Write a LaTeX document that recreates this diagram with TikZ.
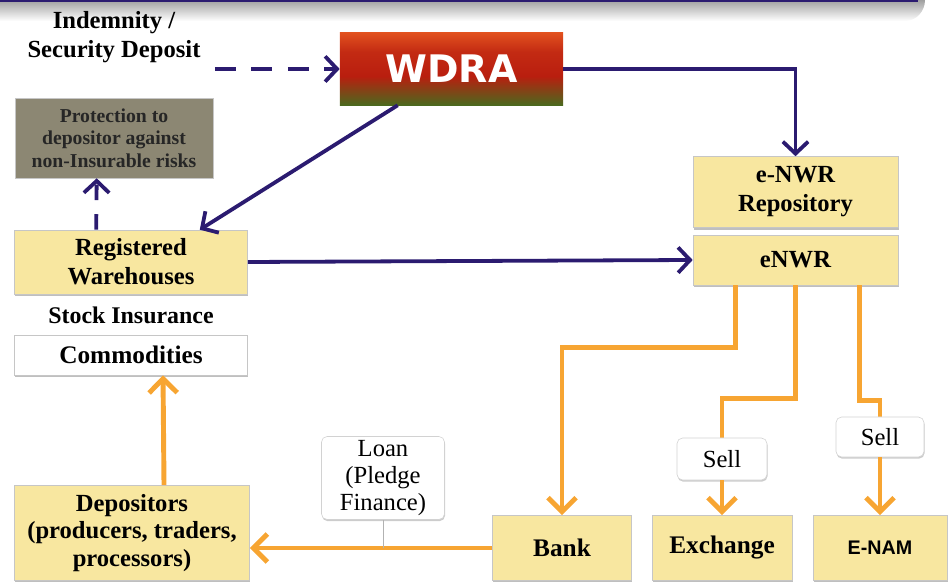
\documentclass[tikz,border=0pt]{standalone}
\usepackage{fontspec}
\setmainfont{Liberation Serif}
\newfontfamily\wdrafont{DejaVu Sans}
\newfontfamily\enamfont{Liberation Sans}
\usetikzlibrary{arrows.meta,shadows}
\definecolor{boxyellow}{RGB}{248,231,160}
\definecolor{linenavy}{RGB}{43,27,112}
\definecolor{lineorange}{RGB}{247,165,50}
\definecolor{protgray}{RGB}{140,135,115}
\definecolor{wdratop}{RGB}{225,80,30}
\definecolor{wdramid}{RGB}{185,30,15}
\definecolor{wdrabot}{RGB}{75,105,30}
\pgfdeclareverticalshading{wdrashade}{100bp}{color(0bp)=(wdrabot);
  color(25bp)=(wdrabot); color(34bp)=(wdrabot!55!wdramid); color(45bp)=(wdramid);
  color(62bp)=(wdramid!75!wdratop); color(75bp)=(wdratop); color(100bp)=(wdratop)}

\begin{document}
\begin{tikzpicture}
  [x=0.025cm,y=-0.025cm,
   every node/.style={align=center,inner sep=2pt},
   ybox/.style={rectangle,fill=boxyellow,draw=gray!45,
     drop shadow={shadow xshift=.6pt,shadow yshift=-1.5pt,opacity=.5}},
   wbox/.style={rectangle,fill=white,draw=gray!45,
     drop shadow={shadow xshift=.6pt,shadow yshift=-1.5pt,opacity=.5}},
   tagbox/.style={rectangle,rounded corners=4pt,fill=white,draw=gray!35,
     drop shadow={shadow xshift=.4pt,shadow yshift=-1.2pt,opacity=.4},
     font=\rmfamily\fontsize{17.5}{19.5}\selectfont},
   narr/.style={draw=linenavy,line width=2.7pt,-{Straight Barb[length=8.5pt,width=18pt]}},
   oarr/.style={draw=lineorange,line width=3.5pt,-{Straight Barb[length=10pt,width=20pt]}},
   oline/.style={draw=lineorange,line width=3.5pt}]

  \useasboundingbox (0,0) rectangle (948,582);

  % banner at the top
  \shade[top color=gray!75,bottom color=white] (0,0) -- (925,0)
    to[out=-90,in=0] (905,21) -- (0,21) -- cycle;
  \fill[linenavy] (0,0) rectangle (918,2);

  \node[font=\bfseries\fontsize{17.5}{21}\selectfont] (nind) at (114,37)
    {Indemnity /\\Security Deposit};
  \node[shading=wdrashade,minimum width=5.575cm,minimum height=1.8cm,text=white,
    font=\wdrafont\bfseries\fontsize{27}{27}\selectfont] (nwdra) at (451.5,69) {WDRA};
  \node[rectangle,fill=protgray,draw=gray!45,minimum width=4.95cm,minimum height=2cm,
    text=black!85,font=\bfseries\fontsize{14}{16}\selectfont] (nprot) at (114,138)
    {Protection to\\depositor against\\non-Insurable risks};
  \node[ybox,minimum width=5.825cm,minimum height=1.6cm,
    font=\bfseries\fontsize{17.5}{20.5}\selectfont] (nware) at (131,262)
    {Registered\\Warehouses};
  \node[font=\bfseries\fontsize{17}{19}\selectfont] (nins) at (131,315) {Stock Insurance};
  \node[wbox,minimum width=5.825cm,minimum height=1cm,
    font=\bfseries\fontsize{18}{20}\selectfont] (ncom) at (131,355) {Commodities};
  \node[ybox,minimum width=5.875cm,minimum height=2.375cm,
    font=\bfseries\fontsize{17.5}{19.5}\selectfont] (ndep) at (132,533)
    {Depositors\\(producers, traders,\\processors)};

  \node[ybox,minimum width=5.125cm,minimum height=1.775cm,
    font=\bfseries\fontsize{17.5}{20.5}\selectfont] (nrepo) at (795.5,192)
    {e-NWR\\Repository};
  \node[ybox,minimum width=5.125cm,minimum height=1.25cm,
    font=\bfseries\fontsize{17.5}{20}\selectfont] (nenwr) at (795.5,260) {eNWR};

  \node[ybox,minimum width=3.475cm,minimum height=1.625cm,
    font=\bfseries\fontsize{18}{20}\selectfont] (nbank) at (562,548) {Bank};
  \node[ybox,minimum width=3.5cm,minimum height=1.625cm,
    font=\bfseries\fontsize{18}{20}\selectfont] (nexch) at (722,548) {Exchange};
  \node[ybox,minimum width=3.35cm,minimum height=1.625cm,
    font=\enamfont\bfseries\fontsize{14}{17}\selectfont] (nenam) at (880,548) {E-NAM};

  % navy connectors
  \draw[narr,dash pattern=on 15pt off 11pt] ([xshift=8pt]nind.east |- nwdra.west) -- (nwdra.west);
  \draw[narr] (nwdra.east) -| (nrepo.north);
  \draw[narr] (nwdra.214) -- ([xshift=-1.2cm]nware.north east);
  \draw[narr,dash pattern=on 11pt off 10pt] ([xshift=2.05cm]nware.north west)
    -- ([xshift=2.05cm]nprot.south west);
  \draw[narr] (nware.east) -- (nenwr.west);

  % orange connectors
  \draw[oarr] ([xshift=0.8cm]ndep.north) -- ([xshift=0.8cm]ncom.south);
  \draw[oarr] ([xshift=-1.5cm]nenwr.south) -- ++(0,62) -| (nbank.north);
  \draw[oline] (nenwr.south) -- ++(0,113) -| (722,440);
  \draw[oline] ([xshift=1.6cm]nenwr.south) -- ++(0,115) -| (880,420);
  \node[tagbox,minimum width=2.25cm,minimum height=1.05cm] (nsella) at (722,459) {Sell};
  \node[tagbox,minimum width=2.2cm,minimum height=1cm] (nsellb) at (880,437) {Sell};
  \draw[oarr] (nsella.south) -- (nexch.north);
  \draw[oarr] (nsellb.south) -- (nenam.north);
  \draw[oarr] (nbank.west) -- (nbank.west -| ndep.east);

  \node[tagbox,minimum width=3.075cm,minimum height=2.075cm] (nloan) at (383,478)
    {Loan\\(Pledge\\Finance)};
  \draw[gray!60,thin] (nloan.south) -- (nloan.south |- nbank.west);

\end{tikzpicture}
\end{document}
